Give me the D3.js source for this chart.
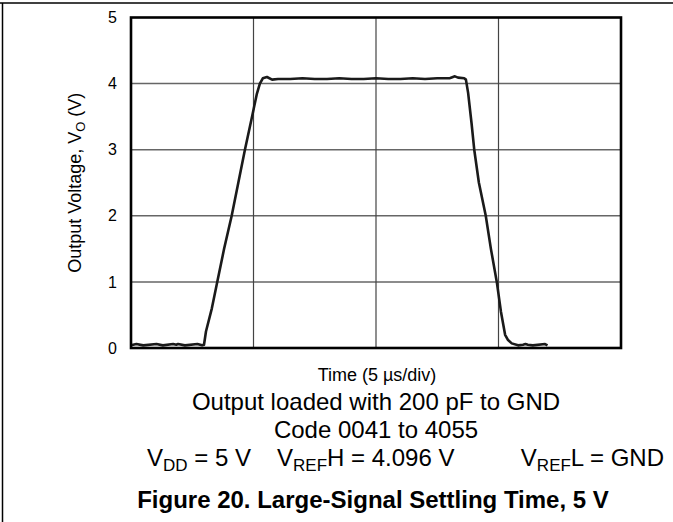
<!DOCTYPE html>
<html>
<head>
<meta charset="utf-8">
<script src="https://cdn.jsdelivr.net/npm/d3@7"></script>
<style>
  html, body { margin: 0; padding: 0; background: #fff; }
  svg text { font-family: "Liberation Sans", Arial, sans-serif; fill: #000; }
</style>
</head>
<body>
<svg id="chart" width="673" height="522"></svg>
<script>
// ---- data ----
const timeUs = [0, 0.22, 0.5, 1.04, 1.3, 1.72, 1.85, 1.92, 2.2, 2.71, 2.9, 2.98,
  3.06, 3.3, 3.52, 3.8, 4.11, 4.38, 4.65, 4.94, 5.14, 5.26, 5.38, 5.55, 5.76, 6.0,
  6.5, 7.0, 7.5, 8.0, 8.5, 9.0, 9.5, 10.0, 10.5, 11.0, 11.5, 12.0, 12.5, 13.0, 13.06, 13.22, 13.35, 13.6, 13.67,
  13.76, 13.9, 14.01, 14.2, 14.48, 14.69, 14.93, 15.1, 15.27, 15.39, 15.54, 15.8, 16.0, 16.1, 16.2, 16.4, 16.9, 17.0];
const voltage = [0.04, 0.06, 0.04, 0.06, 0.04, 0.06, 0.05, 0.06, 0.04, 0.06, 0.04, 0.05,
  0.25, 0.6, 1.0, 1.5, 2.0, 2.5, 3.0, 3.5, 3.85, 4.0, 4.08, 4.1, 4.06, 4.07,
  4.07, 4.08, 4.07, 4.07, 4.08, 4.07, 4.07, 4.08, 4.07, 4.07, 4.08, 4.07, 4.08, 4.08, 4.09, 4.11, 4.09, 4.08, 4.06,
  3.86, 3.4, 3.0, 2.5, 2.0, 1.5, 1.0, 0.55, 0.2, 0.12, 0.07, 0.04, 0.05, 0.06, 0.05, 0.04, 0.06, 0.04];
const yTicks = [0, 1, 2, 3, 4, 5];
const xGridTicks = [5, 10, 15];
const xLabel = "Time (5 µs/div)";
const yLabel = ["Output Voltage, V", "O", " (V)"];
const captionLines = ["Output loaded with 200 pF to GND", "Code 0041 to 4055"];
const figureTitle = "Figure 20. Large-Signal Settling Time, 5 V";

// ---- layout ----
const svg = d3.select("#chart");
const L = 131, R = 621, T = 17.5, B = 348;
const x = d3.scaleLinear().domain([0, 20]).range([L, R]);
const y = d3.scaleLinear().domain([0, 5]).range([B, T]);

// frame lines of the figure
svg.append("line").attr("x1", 0).attr("x2", 673).attr("y1", 3).attr("y2", 3)
  .attr("stroke", "#000").attr("stroke-width", 1.5);
svg.append("line").attr("x1", 2.5).attr("x2", 2.5).attr("y1", 3).attr("y2", 522)
  .attr("stroke", "#000").attr("stroke-width", 1.5);

// grid
svg.append("g").selectAll("line").data(yTicks.filter(d => d > 0 && d < 5)).join("line")
  .attr("x1", L).attr("x2", R).attr("y1", d => y(d)).attr("y2", d => y(d))
  .attr("stroke", "#666").attr("stroke-width", 1.5);
svg.append("g").selectAll("line").data(xGridTicks).join("line")
  .attr("x1", d => x(d)).attr("x2", d => x(d)).attr("y1", T).attr("y2", B)
  .attr("stroke", "#444").attr("stroke-width", 1.2);

// y axis labels
const yAxis = d3.axisLeft(y).tickValues(yTicks).tickSize(0).tickPadding(0).tickFormat(d3.format("d"));
const gy = svg.append("g").attr("transform", `translate(${L - 14},0)`).call(yAxis);
gy.select(".domain").remove();
gy.selectAll("text").attr("font-size", 16).attr("font-family", "Liberation Sans, Arial, sans-serif").attr("fill", "#000");

// waveform
const pts = timeUs.map((t, i) => [t, voltage[i]]);
svg.append("path").datum(pts)
  .attr("d", d3.line().x(d => x(d[0])).y(d => y(d[1])).curve(d3.curveLinear))
  .attr("fill", "none").attr("stroke", "#1a1a1a").attr("stroke-width", 2.6)
  .attr("stroke-linejoin", "round");

// plot border
svg.append("rect").attr("x", L).attr("y", T).attr("width", R - L).attr("height", B - T)
  .attr("fill", "none").attr("stroke", "#000").attr("stroke-width", 2.6);

// y label
const yl = svg.append("text").attr("transform", `translate(81,${(T + B) / 2}) rotate(-90)`)
  .attr("text-anchor", "middle").attr("font-size", 18);
yl.append("tspan").text(yLabel[0]);
yl.append("tspan").text(yLabel[1]).attr("font-size", 13).attr("dy", 4);
yl.append("tspan").text(yLabel[2]).attr("dy", -4);

// x label
svg.append("text").attr("x", 377).attr("y", 381).attr("text-anchor", "middle")
  .attr("font-size", 18).text(xLabel);

// caption lines
svg.append("g").selectAll("text").data(captionLines).join("text")
  .attr("x", 376).attr("y", (d, i) => 410 + i * 28).attr("text-anchor", "middle")
  .attr("font-size", 24).text(d => d);

// voltage line
function subText(xPos, anchor, parts) {
  const t = svg.append("text").attr("x", xPos).attr("y", 466).attr("font-size", 24)
    .attr("text-anchor", anchor);
  parts.forEach(p => {
    const ts = t.append("tspan").text(p.s);
    if (p.sub) ts.attr("font-size", 17).attr("dy", 5);
    else if (p.after) ts.attr("dy", -5);
  });
}
subText(147, "start", [{s: "V"}, {s: "DD", sub: true}, {s: " = 5 V", after: true}]);
subText(277, "start", [{s: "V"}, {s: "REF", sub: true}, {s: "H = 4.096 V", after: true}]);
subText(664, "end", [{s: "V"}, {s: "REF", sub: true}, {s: "L = GND", after: true}]);

// figure title
svg.append("text").attr("x", 373).attr("y", 508).attr("text-anchor", "middle")
  .attr("font-size", 24).attr("font-weight", "bold").text(figureTitle);
</script>
</body>
</html>
